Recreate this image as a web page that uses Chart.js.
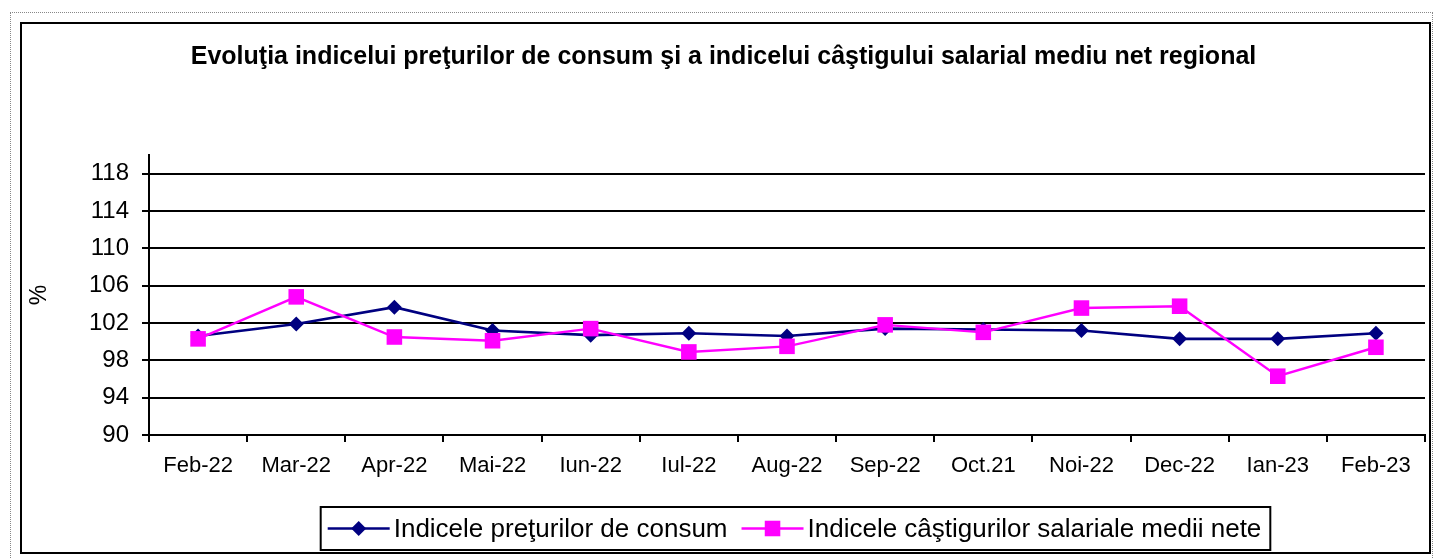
<!DOCTYPE html>
<html>
<head>
<meta charset="utf-8">
<script src="https://cdn.jsdelivr.net/npm/chart.js@4"></script>
<style>
  body { margin: 0; background: #fff; }
  #outer { position: absolute; left: 10px; top: 12px; width: 1421px; height: 600px; border: 1px dotted #888; }
  #frame { position: absolute; left: 20px; top: 22px; width: 1407px; height: 528px; border: 2px solid #000; background: #fff; }
  canvas { display: block; }
</style>
</head>
<body>
<div id="outer"></div>
<div id="frame"><canvas id="chart" width="1407" height="528"></canvas></div>
<script>
const months = ['Feb-22', 'Mar-22', 'Apr-22', 'Mai-22', 'Iun-22', 'Iul-22', 'Aug-22',
  'Sep-22', 'Oct.21', 'Noi-22', 'Dec-22', 'Ian-23', 'Feb-23'];
const preturi = [100.6, 101.9, 103.7, 101.2, 100.7, 100.9, 100.6, 101.4, 101.3, 101.2, 100.3, 100.3, 100.9];
const castiguri = [100.3, 104.8, 100.5, 100.1, 101.4, 98.9, 99.5, 101.8, 101.0, 103.6, 103.8, 96.3, 99.4];
const yTicks = [90, 94, 98, 102, 106, 110, 114, 118];

const FONT = 'Arial, "Liberation Sans", sans-serif';

// legend drawn by hand so it gets the boxed Excel look
const boxedLegend = {
  id: 'boxedLegend',
  afterDraw(chart, args, opts) {
    const { ctx } = chart;
    const font = '26px ' + FONT;
    ctx.save();
    ctx.font = font;
    const items = chart.data.datasets.slice().sort((a, b) => a.legendIndex - b.legendIndex);
    const lineLen = 62, gapText = 4, gapItem = 14, pad = 7;
    let total = pad;
    items.forEach((ds, i) => {
      total += lineLen + gapText + ctx.measureText(ds.label).width;
      if (i < items.length - 1) total += gapItem;
    });
    total += pad + 2;
    const left = opts.centerX - total / 2;
    const top = opts.top, bottom = opts.bottom;
    const mid = (top + bottom) / 2;

    ctx.fillStyle = '#fff';
    ctx.fillRect(left, top, total, bottom - top);
    ctx.lineWidth = 2;
    ctx.strokeStyle = '#000';
    ctx.strokeRect(left, top, total, bottom - top);

    let x = left + pad;
    items.forEach((ds) => {
      ctx.strokeStyle = ds.borderColor;
      ctx.lineWidth = ds.borderWidth;
      ctx.beginPath();
      ctx.moveTo(x, mid);
      ctx.lineTo(x + lineLen, mid);
      ctx.stroke();
      const cx = x + lineLen / 2;
      ctx.fillStyle = ds.pointBackgroundColor;
      ctx.beginPath();
      if (ds.pointStyle === 'rect') {
        const s = ds.pointRadius * Math.SQRT1_2;
        ctx.rect(cx - s, mid - s, 2 * s, 2 * s);
      } else {
        const r = ds.pointRadius;
        ctx.moveTo(cx - r, mid); ctx.lineTo(cx, mid - r); ctx.lineTo(cx + r, mid); ctx.lineTo(cx, mid + r);
        ctx.closePath();
      }
      ctx.fill();
      x += lineLen + gapText;
      ctx.fillStyle = '#000';
      ctx.textBaseline = 'middle';
      ctx.font = font;
      ctx.fillText(ds.label, x, mid + 1);
      x += ctx.measureText(ds.label).width + gapItem;
    });
    ctx.restore();
  },
};

new Chart(document.getElementById('chart'), {
  type: 'line',
  data: {
    labels: months,
    datasets: [
      {
        label: 'Indicele câştigurilor salariale medii nete',
        data: castiguri,
        legendIndex: 1,
        order: 0,
        borderColor: '#FF00FF',
        backgroundColor: '#FF00FF',
        pointBackgroundColor: '#FF00FF',
        borderWidth: 2.4,
        pointStyle: 'rect',
        pointRadius: 11,
        pointBorderWidth: 0,
        tension: 0,
      },
      {
        label: 'Indicele preţurilor de consum',
        data: preturi,
        legendIndex: 0,
        order: 1,
        borderColor: '#000080',
        backgroundColor: '#000080',
        pointBackgroundColor: '#000080',
        borderWidth: 2.6,
        pointStyle: 'rectRot',
        pointRadius: 7.5,
        pointBorderWidth: 0,
        tension: 0,
      },
    ],
  },
  plugins: [boxedLegend],
  options: {
    responsive: false,
    animation: false,
    layout: { autoPadding: false, padding: { left: 0, right: 4, top: 0, bottom: 0 } },
    plugins: {
      legend: { display: false },
      tooltip: { enabled: false },
      title: {
        display: true,
        text: 'Evoluţia indicelui preţurilor de consum şi a indicelui câştigului salarial mediu net regional',
        color: '#000',
        font: { family: FONT, size: 25, weight: 'bold' },
        padding: { top: 18, bottom: 83 },
      },
      boxedLegend: { centerX: 773.5, top: 483, bottom: 526 },
    },
    scales: {
      x: {
        offset: true,
        afterFit(scale) {
          scale.height = 117;
          scale.paddingLeft = 0;
          scale.paddingRight = 0;
        },
        grid: {
          offset: true,
          drawOnChartArea: false,
          drawTicks: true,
          tickLength: 7,
          color: '#000',
          lineWidth: 2,
        },
        border: { display: true, color: '#000', width: 2 },
        ticks: {
          color: '#000',
          font: { family: FONT, size: 22 },
          padding: 11,
          maxRotation: 0,
          autoSkip: false,
        },
      },
      y: {
        min: 90,
        max: 120,
        afterFit(scale) { scale.width = 127; },
        afterBuildTicks(scale) { scale.ticks = yTicks.map((v) => ({ value: v })); },
        grid: { color: '#000', lineWidth: 2, tickLength: 7 },
        border: { display: true, color: '#000', width: 2 },
        ticks: {
          color: '#000',
          font: { family: FONT, size: 24 },
          padding: 13,
        },
        title: {
          display: true,
          text: '%',
          color: '#000',
          font: { family: FONT, size: 23 },
          padding: { top: 4, bottom: 0 },
        },
      },
    },
  },
});
</script>
</body>
</html>
